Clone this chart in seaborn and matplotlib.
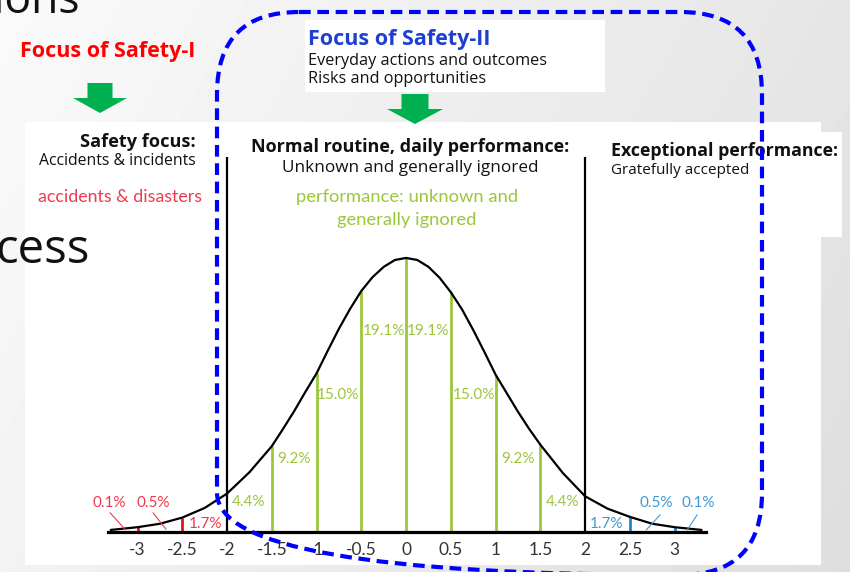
"""
Safety-I vs Safety-II slide: normal distribution of performance
with sigma bands, percentage labels and the focus annotations.
"""

import matplotlib.pyplot as plt
import numpy as np
import seaborn as sns
from matplotlib.patches import FancyArrow, FancyBboxPatch, Rectangle

# --- data ----------------------------------------------------------------
# bell curve, x in standard deviations, y = density
curve_x = [-3.3, -3.0, -2.75, -2.5, -2.25, -2.0, -1.75, -1.5, -1.375, -1.25,
           -1.125, -1.0, -0.875, -0.75, -0.625, -0.5, -0.375, -0.25, -0.125,
           0.0, 0.125, 0.25, 0.375, 0.5, 0.625, 0.75, 0.875, 1.0, 1.125,
           1.25, 1.375, 1.5, 1.75, 2.0, 2.25, 2.5, 2.75, 3.0, 3.3]
curve_y = [0.003, 0.007, 0.012, 0.021, 0.035, 0.056, 0.087, 0.125, 0.150,
           0.176, 0.204, 0.231, 0.264, 0.296, 0.325, 0.351, 0.371, 0.386,
           0.396, 0.399, 0.396, 0.386, 0.370, 0.349, 0.324, 0.294, 0.262,
           0.229, 0.202, 0.175, 0.150, 0.127, 0.086, 0.052, 0.034, 0.022,
           0.012, 0.007, 0.003]

# vertical band edges and how high each line goes
band_x = [-3, -2.5, -2, -1.5, -1, -0.5, 0, 0.5, 1, 1.5, 2, 2.5, 3]
band_top = [0.007, 0.021, 0.546, 0.125, 0.231, 0.351, 0.399, 0.349, 0.229,
            0.127, 0.546, 0.022, 0.007]
band_group = ["low", "low", "edge", "mid", "mid", "mid", "mid", "mid", "mid",
              "mid", "edge", "high", "high"]

pct_labels = ["0.1%", "0.5%", "1.7%", "4.4%", "9.2%", "15.0%", "19.1%",
              "19.1%", "15.0%", "9.2%", "4.4%", "1.7%", "0.5%", "0.1%"]
pct_group = ["low"] * 3 + ["mid"] * 8 + ["high"] * 3

tick_vals = [-3, -2.5, -2, -1.5, -1, -0.5, 0, 0.5, 1, 1.5, 2, 2.5, 3]
tick_text = ["-3", "-2.5", "-2", "-1.5", "-1", "-0.5", "0", "0.5", "1",
             "1.5", "2", "2.5", "3"]

# --- layout (label anchors, data units of the curve axes) -----------------
pct_x = [-3.318, -2.827, -2.235, -1.765, -1.251, -0.760, -0.246,
         0.246, 0.760, 1.251, 1.743, 2.235, 2.793, 3.263]
pct_y = [0.036, 0.036, 0.006, 0.038, 0.100, 0.194, 0.287,
         0.287, 0.194, 0.100, 0.038, 0.006, 0.036, 0.036]
# leader lines (label -> band), for the tiny tail percentages
leaders = [((-3.307, 0.028), (-3.14, 0.004), "low"),
           ((-2.827, 0.028), (-2.682, 0.004), "low"),
           ((2.838, 0.025), (2.682, 0.003), "high"),
           ((3.251, 0.025), (3.14, 0.003), "high")]

COLORS = {"low": "#ee3a4c", "mid": "#9cc63b", "high": "#3d9ad6",
          "edge": "black"}
TICK_COLORS = {"low": "#e8101c", "mid": "#9cc63b", "high": "#1a88cc",
               "edge": "black"}

W, H = 850, 572
UI = ["Open Sans", "DejaVu Sans"]
CAL = ["Lato", "DejaVu Sans"]

sns.set_theme(style="white")
plt.rcParams["font.family"] = UI

fig = plt.figure(figsize=(W / 100, H / 100), dpi=100)

# ---------------- background layer in pixel coordinates -------------------
bg = fig.add_axes([0, 0, 1, 1], zorder=0)
bg.set_xlim(0, W)
bg.set_ylim(H, 0)
bg.axis("off")

gx, gy = np.meshgrid(np.linspace(0, 1, 200), np.linspace(0, 1, 140))
shade = 0.98 - 0.08 * gx - 0.03 * gy
bg.imshow(shade, cmap="gray", vmin=0, vmax=1, extent=[0, W, H, 0],
          aspect="auto", interpolation="bilinear")

for x0, y0, x1, y1 in [(25, 122, 821, 565), (305, 20, 605, 92),
                       (230, 125, 585, 200), (585, 132, 842, 237)]:
    bg.add_patch(Rectangle((x0, y0), x1 - x0, y1 - y0, color="white", lw=0))

# slide text clipped by the picture
bg.text(80, 13, "sions", fontsize=32, ha="right", va="baseline",
        color="#111111")
bg.text(90, 263, "cess", fontsize=34, ha="right", va="baseline",
        color="#111111")

# Safety-I column
bg.text(108, 57, "Focus of Safety-I", fontsize=15.5, weight="bold",
        color="#ff0000", ha="center", va="baseline")
bg.add_patch(FancyArrow(100, 83, 0, 30, width=25, head_width=54,
                        head_length=15, length_includes_head=True,
                        color="#00b050", lw=0))
bg.text(196, 147, "Safety focus:", fontsize=13.1, weight="bold",
        ha="right", va="baseline", color="#111111")
bg.text(196, 165, "Accidents & incidents", fontsize=11.3, ha="right",
        va="baseline", color="#111111")
bg.text(202, 202, "accidents & disasters", fontsize=12.8, ha="right",
        va="baseline", color="#ee3a4c", family=CAL)

# Safety-II column
bg.text(308, 45, "Focus of Safety-II", fontsize=15.5, weight="bold",
        color="#1f3fd0", ha="left", va="baseline")
bg.text(308, 65, "Everyday actions and outcomes", fontsize=11.7,
        ha="left", va="baseline", color="#111111")
bg.text(308, 83, "Risks and opportunities", fontsize=11.7, ha="left",
        va="baseline", color="#111111")
bg.add_patch(FancyArrow(415, 94, 0, 30, width=27, head_width=56,
                        head_length=15, length_includes_head=True,
                        color="#00b050", lw=0))
bg.text(410, 152, "Normal routine, daily performance:", fontsize=13,
        weight="bold", ha="center", va="baseline", color="#111111")
bg.text(410, 172, "Unknown and generally ignored", fontsize=12.3,
        ha="center", va="baseline", color="#111111")
bg.text(407, 202, "performance: unknown and", fontsize=13.2,
        ha="center", va="baseline", color="#9cc63b", family=CAL)
bg.text(407, 225, "generally ignored", fontsize=13.2,
        ha="center", va="baseline", color="#9cc63b", family=CAL)

# exceptional column
bg.text(611, 156, "Exceptional performance:", fontsize=12.8,
        weight="bold", ha="left", va="baseline", color="#111111")
bg.text(611, 174, "Gratefully accepted", fontsize=11, ha="left",
        va="baseline", color="#111111")

# ---------------- curve layer ---------------------------------------------
ax = fig.add_axes([108 / W, 40 / H, 598 / W, 532 / H], zorder=2)
ax.set_facecolor("none")
ax.set_xlim(-3.33, 3.35)
ax.set_ylim(0, 0.7745)

sns.lineplot(x=curve_x, y=curve_y, ax=ax, color="black", lw=1.6,
             sort=False, clip_on=False)

for x, top, grp in zip(band_x, band_top, band_group):
    lw = 1.6 if grp == "edge" else 2.0
    ax.vlines(x, 0, top, color=TICK_COLORS[grp], lw=lw, zorder=1)

for lab, x, y, grp in zip(pct_labels, pct_x, pct_y, pct_group):
    ax.text(x, y, lab, fontsize=11, family=CAL, color=COLORS[grp],
            ha="center", va="baseline")

for (x0, y0), (x1, y1), grp in leaders:
    ax.plot([x0, x1], [y0, y1], color=COLORS[grp], lw=0.8)

for side in ["top", "left", "right"]:
    ax.spines[side].set_visible(False)
ax.spines["bottom"].set_linewidth(2.3)
ax.spines["bottom"].set_color("black")
ax.set_yticks([])
ax.set_xticks(tick_vals)
ax.set_xticklabels(tick_text, family=CAL, fontsize=12.5, color="#333333")
ax.tick_params(axis="x", length=0, pad=7)
ax.set_xlabel("")

# Safety-II focus frame, drawn on top of everything
frame = FancyBboxPatch((217, 12), 545, 563,
                       boxstyle="round,pad=0,rounding_size=82",
                       transform=bg.transData, fill=False,
                       edgecolor="#0000ff", lw=3,
                       linestyle=(0, (2.8, 1.6)), clip_on=False, zorder=10)
ax.add_patch(frame)

fig.savefig("out.png", dpi=100)
